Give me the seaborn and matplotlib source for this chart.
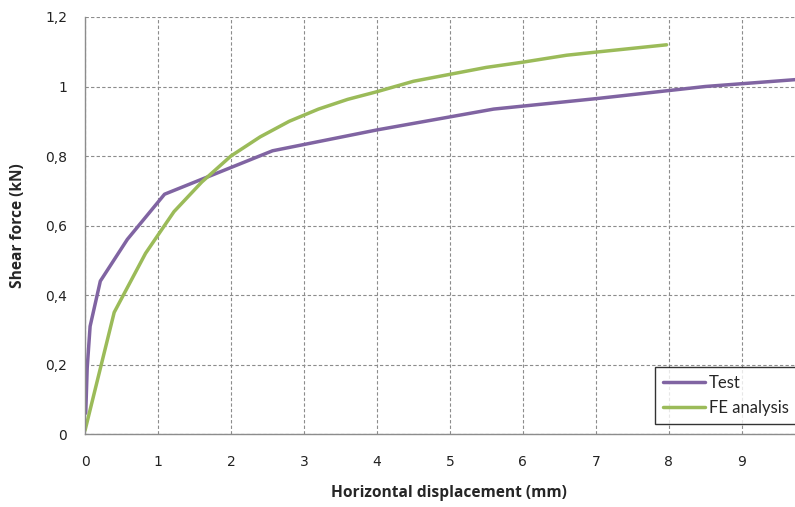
import numpy as np
import pandas as pd
import matplotlib
matplotlib.use("Agg")
import matplotlib.pyplot as plt
from matplotlib.ticker import FuncFormatter
import seaborn as sns

test_x = [0.01, 0.03, 0.07, 0.21, 0.58, 1.09, 2.57, 4.0, 5.6, 7.0, 8.5, 9.75]
test_y = [0.06, 0.19, 0.31, 0.44, 0.56, 0.69, 0.815, 0.875, 0.935, 0.965, 1.0, 1.02]

fe_x = [0.0, 0.40, 0.83, 1.22, 1.6, 2.0, 2.4, 2.8, 3.2, 3.6, 4.0, 4.5, 5.0, 5.5, 6.0, 6.6, 7.05, 7.97]
fe_y = [0.01, 0.35, 0.52, 0.64, 0.725, 0.80, 0.855, 0.9, 0.935, 0.963, 0.985, 1.015, 1.035, 1.055, 1.07, 1.09, 1.10, 1.12]

series_names = ["Test", "FE analysis"]
colors = ["#8064A2", "#9BBB59"]

df = pd.concat([
    pd.DataFrame({"x": test_x, "y": test_y, "series": series_names[0]}),
    pd.DataFrame({"x": fe_x, "y": fe_y, "series": series_names[1]}),
])

sns.set_style("white")
plt.rcParams["font.family"] = ["DejaVu Sans"]

fig = plt.figure(figsize=(7.95, 5.07), dpi=100)
ax = fig.add_axes([85 / 795, 1 - 434 / 507, 1 - 85 / 795, (434 - 17) / 507])

sns.lineplot(data=df, x="x", y="y", hue="series", palette=colors,
             sort=False, estimator=None, linewidth=2.5, ax=ax)

ax.set_xlim(0, 9.73)
ax.set_ylim(0, 1.2)
ax.set_xticks(np.arange(0, 10, 1))
ax.set_yticks(np.arange(0, 1.21, 0.2))
ax.yaxis.set_major_formatter(FuncFormatter(lambda v, p: ("%g" % round(v, 1)).replace(".", ",")))

ax.grid(True, color="#8c8c8c", linestyle=(0, (3, 2)), linewidth=0.8)
ax.set_axisbelow(True)
for s in ["top", "right"]:
    ax.spines[s].set_visible(False)
for s in ["left", "bottom"]:
    ax.spines[s].set_color("#8c8c8c")
    ax.spines[s].set_linewidth(1.0)

ax.tick_params(axis="both", which="major", direction="out", length=5, width=0.8,
               color="#8c8c8c", labelsize=10, labelcolor="#222222", pad=8)
ax.tick_params(axis="x", pad=10)

ax.set_xlabel("Horizontal displacement (mm)", fontsize=11.2, fontweight="bold",
              family="Open Sans")
ax.set_ylabel("Shear force (kN)", fontsize=11.2, fontweight="bold",
              family="Open Sans")
ax.xaxis.set_label_coords((449 - 85) / 710, -(493 - 434) / 417)
ax.yaxis.set_label_coords(-(85 - 18) / 710, 0.5)
ax.xaxis.label.set_verticalalignment("center")
ax.yaxis.label.set_verticalalignment("center")

leg = ax.legend(loc="lower right", bbox_to_anchor=(1.003, 0.024), borderaxespad=0,
                frameon=True, fancybox=False, prop={"family": "Lato", "size": 12},
                handlelength=2.5, handletextpad=0.25, borderpad=0.5, labelspacing=0.5)
leg.get_frame().set_edgecolor("black")
leg.get_frame().set_linewidth(1.0)
for line in leg.get_lines():
    line.set_linewidth(2.5)

fig.savefig("out.png", dpi=100)
